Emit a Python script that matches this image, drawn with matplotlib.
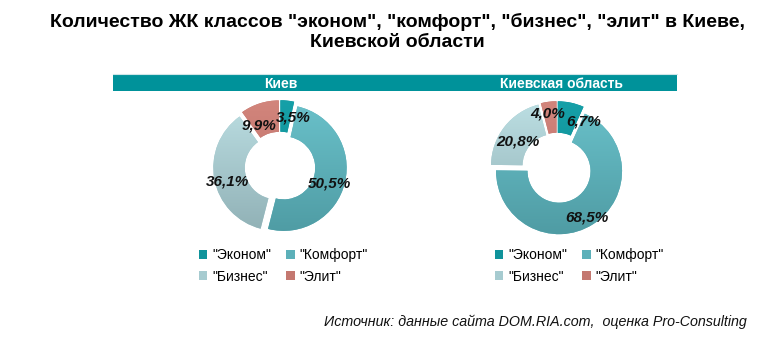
import numpy as np
import matplotlib.pyplot as plt
from matplotlib.colors import LinearSegmentedColormap
from matplotlib.patches import Rectangle

# Data
categories = ['"Эконом"', '"Комфорт"', '"Бизнес"', '"Элит"']
kiev = [3.5, 50.5, 36.1, 9.9]
region = [6.7, 68.5, 20.8, 4.0]
panel_titles = ['Киев', 'Киевская область']
title = 'Количество ЖК классов "эконом", "комфорт", "бизнес", "элит" в Киеве,\nКиевской области'
source = 'Источник: данные сайта DOM.RIA.com,  оценка Pro-Consulting'

# top / bottom colours of each slice gradient
grad_top = ['#17a2aa', '#6cc4cd', '#bfe2e6', '#d4877e']
grad_bot = ['#0a848b', '#4d99a1', '#8dadb2', '#b56860']
flat = ['#10939b', '#5cb0b9', '#a6cbd0', '#c47870']

plt.rcParams['font.family'] = ['Liberation Sans', 'DejaVu Sans']

W, H = 767, 339
fig = plt.figure(figsize=(W / 100, H / 100), dpi=100)


def px_axes(cx, cy, half):
    return fig.add_axes([(cx - half) / W, (H - cy - half) / H, 2 * half / W, 2 * half / H])


# title
fig.text(397 / W, 1 - 13 / H, title, ha='center', va='top', fontsize=14,
         fontweight='bold', linespacing=1.2)

# teal header bar
bar = fig.add_axes([0, 0, 1, 1], zorder=-1)
bar.set_xlim(0, W)
bar.set_ylim(H, 0)
bar.axis('off')
bar.add_patch(Rectangle((113, 75), 564, 16, color='#00929a', lw=0))
bar.plot([113, 677], [74, 74], color='#cfe6e8', lw=0.8)
bar.text(281, 83.5, panel_titles[0], color='white', fontsize=10, fontweight='bold',
         ha='center', va='center')
bar.text(562, 83.5, panel_titles[1], color='white', fontsize=10, fontweight='bold',
         ha='center', va='center')

L = 1.3
SCALE = 63.0  # px per data unit
centers = [(280, 167), (557, 168)]
legend_pos = [(199, 248), (495, 248)]
# where the percent labels sit, in px from the donut centre
label_offsets = [
    [(13, -49), (49, 17), (-52, 14), (-21, -41)],
    [(27, -46), (30, 50), (-39, -27), (-9, -54)],
]

for (cx, cy), vals, (lx, ly), offs in zip(centers, [kiev, region], legend_pos, label_offsets):
    ax = px_axes(cx, cy, L * SCALE)
    wedges, texts, autotexts = ax.pie(
        vals, startangle=90, counterclock=False, colors=flat,
        explode=[0.06] * len(vals), radius=1.0,
        wedgeprops=dict(width=0.5, linewidth=0),
        autopct=lambda p: f'{p:.1f}%'.replace('.', ','), pctdistance=0.76,
        textprops=dict(fontsize=11, fontweight='bold', fontstyle='italic', color='#111111'))
    for w, t, b in zip(wedges, grad_top, grad_bot):
        cmap = LinearSegmentedColormap.from_list('g', [t, b])
        im = ax.imshow(np.linspace(0, 1, 256).reshape(-1, 1), cmap=cmap,
                       extent=[-1.2, 1.2, -1.2, 1.2], aspect='auto', origin='upper', zorder=1)
        im.set_clip_path(w)
    for a, (dx, dy) in zip(autotexts, offs):
        a.set_position((dx / SCALE, -dy / SCALE))
        a.set_zorder(5)
    ax.set_xlim(-L, L)
    ax.set_ylim(-L, L)
    ax.set_aspect('equal')
    ax.axis('off')

    order = [0, 2, 1, 3]
    fig.legend([wedges[i] for i in order], [categories[i] for i in order],
               ncol=2, loc='upper left', bbox_to_anchor=(lx / W, 1 - ly / H),
               frameon=False, fontsize=10, handlelength=0.6, handleheight=0.6,
               handletextpad=0.35, columnspacing=1.1, labelspacing=0.55, borderpad=0,
               borderaxespad=0)

fig.text(747 / W, 1 - 322 / H, source, ha='right', va='center', fontsize=10.3,
         fontstyle='italic', color='#111111')

fig.savefig('out.png', dpi=100, facecolor='white')
